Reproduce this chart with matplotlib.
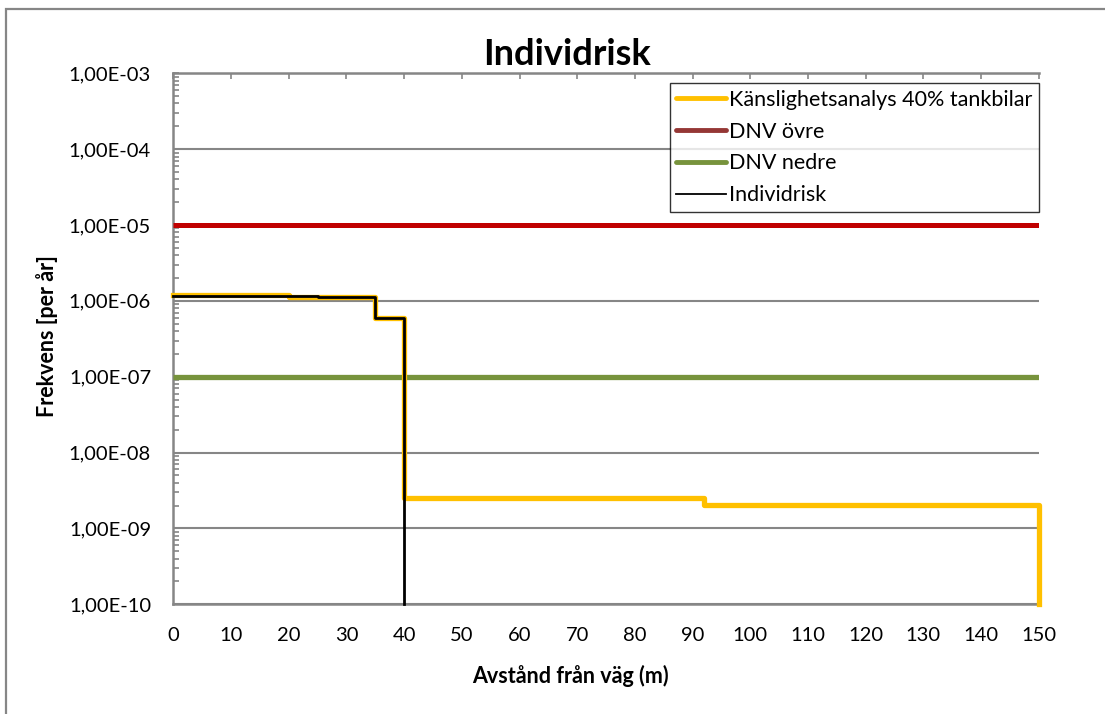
import numpy as np
import matplotlib
matplotlib.use('Agg')
import matplotlib.pyplot as plt
from matplotlib.lines import Line2D
from matplotlib.patches import Rectangle
from matplotlib.ticker import FuncFormatter, LogLocator, NullFormatter

plt.rcParams['font.family'] = ['Lato', 'DejaVu Sans']

# data
YMIN, YMAX = 1e-10, 1e-3
kansl_x = [0, 20, 35, 40, 92, 150, 150]
kansl_y = [1.18e-6, 1.14e-6, 6.0e-7, 2.55e-9, 2.03e-9, 2.03e-9, 0.0]
indiv_x = [0, 25, 35, 40, 40]
indiv_y = [1.16e-6, 1.12e-6, 6.0e-7, 6.0e-7, 0.0]
dnv_x = [0, 150]
dnv_ovre = [1e-5, 1e-5]
dnv_nedre = [1e-7, 1e-7]

x_ticks = list(range(0, 151, 10))

GRAY = '#868686'
W, H = 1105, 714

fig = plt.figure(figsize=(W / 100, H / 100), dpi=100)
ax = fig.add_axes([173.3 / W, 1 - 604.3 / H, 865.5 / W, 531 / H])

# ram runt diagrammet
fig.patches.append(Rectangle((6 / W, -0.1), 1.2, 1 - 9 / H + 0.1, transform=fig.transFigure,
                             fill=False, edgecolor=GRAY, lw=1.6))

# värden under skalan slutar vid axeln
ky = np.clip(kansl_y, YMIN, None)
iy = np.clip(indiv_y, YMIN, None)

ax.plot(dnv_x, dnv_ovre, color='#C00000', lw=3.6, solid_capstyle='butt', zorder=3)
ax.plot(dnv_x, dnv_nedre, color='#77933C', lw=3.8, solid_capstyle='butt', zorder=3)
ax.step(kansl_x, ky, where='post', color='#FFC000', lw=3.8, zorder=4, clip_on=False)
ax.step(indiv_x, iy, where='post', color='black', lw=2.0, zorder=5, clip_on=False)

ax.set_yscale('log')
ax.set_ylim(YMIN, YMAX)
ax.set_xlim(0, 150)
ax.set_xticks(x_ticks)

ax.yaxis.set_major_locator(LogLocator(base=10, numticks=20))
ax.yaxis.set_minor_locator(LogLocator(base=10, subs=np.arange(2, 10), numticks=20))
ax.yaxis.set_minor_formatter(NullFormatter())
ax.yaxis.set_major_formatter(FuncFormatter(lambda v, p: f"{v:.2E}".replace('.', ',')))

ax.grid(axis='y', which='major', color=GRAY, lw=1.5)
ax.set_axisbelow(True)

for s in ['left', 'bottom', 'top']:
    ax.spines[s].set_color(GRAY)
    ax.spines[s].set_linewidth(1.8)
ax.spines['right'].set_visible(False)

ax.tick_params(axis='y', which='both', direction='in', color=GRAY, width=1.2, labelsize=14.5, pad=16)
ax.tick_params(axis='y', which='major', length=4.3)
ax.tick_params(axis='y', which='minor', length=4.3)
ax.tick_params(axis='x', direction='in', bottom=False, top=True, labelbottom=True, color=GRAY,
               width=1.2, length=4.3, labelsize=14.5, pad=16)

fig.text(567 / W, 1 - 65 / H, 'Individrisk', ha='center', va='baseline', fontsize=26, fontweight='bold')
fig.text(570 / W, 1 - 676 / H, 'Avstånd från väg (m)', ha='center', va='center', fontsize=15.5, fontweight='bold')
fig.text(47 / W, 1 - 336 / H, 'Frekvens [per år]', ha='center', va='center', rotation=90,
         fontsize=15.5, fontweight='bold')

handles = [
    Line2D([], [], color='#FFC000', lw=3.5, solid_capstyle='round'),
    Line2D([], [], color='#953735', lw=3.5, solid_capstyle='round'),
    Line2D([], [], color='#77933C', lw=3.5, solid_capstyle='round'),
    Line2D([], [], color='black', lw=1.3),
]
labels = ['Känslighetsanalys 40% tankbilar', 'DNV övre', 'DNV nedre', 'Individrisk']
leg = ax.legend(handles, labels, loc='upper right', bbox_to_anchor=(1.0, 1 - 10 / 531),
                fontsize=15.5, frameon=True, fancybox=False, borderpad=0.3,
                handlelength=2.3, handletextpad=0.15, labelspacing=0.55, borderaxespad=0)
leg.get_frame().set_edgecolor('black')
leg.get_frame().set_linewidth(1.0)
leg.set_zorder(10)

fig.savefig('out.png', dpi=100)
